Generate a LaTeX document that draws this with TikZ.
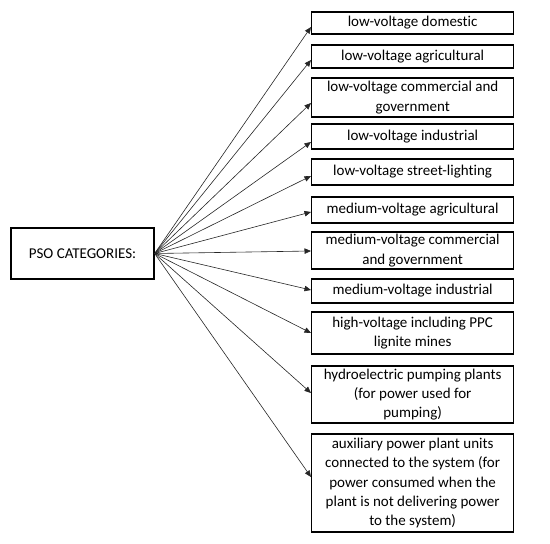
\documentclass[tikz,border=0pt]{standalone}
\usepackage{fontspec}
\setmainfont{Carlito}[Ligatures={NoCommon,NoDiscretionary,NoContextual}]
\usetikzlibrary{arrows.meta}
\begin{document}
\begin{tikzpicture}[x=1pt,y=-1pt,
  cat/.style={draw=black,line width=1.3pt,minimum width=202pt,anchor=west,align=center,inner sep=0pt,
    font=\fontsize{15}{19.3}\selectfont},
  src/.style={draw=black,line width=1.3pt,minimum width=143pt,minimum height=51pt,inner sep=0pt,
    font=\fontsize{15}{19.3}\selectfont},
  link/.style={draw=black!85,line width=0.6pt,-{Triangle[length=6.5pt,width=5.5pt]}}]
\useasboundingbox (0,0) rectangle (550,544);
\node[src] (pso) at (82.5,253.5) {PSO CATEGORIES:};
\node[cat,minimum height=22pt] (b1) at (311,23) {low-voltage domestic};
\node[cat,minimum height=23pt] (b2) at (311,56.5) {low-voltage agricultural};
\node[cat,minimum height=39pt] (b3) at (311,97.5) {low-voltage commercial and\\government};
\node[cat,minimum height=25pt] (b4) at (311,136.5) {low-voltage industrial};
\node[cat,minimum height=26pt] (b5) at (311,172) {low-voltage street-lighting};
\node[cat,minimum height=26pt] (b6) at (311,210) {medium-voltage agricultural};
\node[cat,minimum height=37pt] (b7) at (311,250.5) {medium-voltage commercial\\and government};
\node[cat,minimum height=24pt] (b8) at (311,291) {medium-voltage industrial};
\node[cat,minimum height=42pt] (b9) at (311,333) {high-voltage including PPC\\lignite mines};
\node[cat,minimum height=57pt] (b10) at (311,394.5) {hydroelectric pumping plants\\(for power used for\\pumping)};
\node[cat,minimum height=98pt] (b11) at (311,483) {auxiliary power plant units\\connected to the system (for\\power consumed when the\\plant is not delivering power\\to the system)};
\draw[link] (pso.east) -- ([yshift=-4pt]b1.west);
\draw[link] (pso.east) -- ([yshift=-3.5pt]b2.west);
\draw[link] (pso.east) -- ([yshift=-5.5pt]b3.west);
\draw[link] (pso.east) -- ([yshift=-5.5pt]b4.west);
\draw[link] (pso.east) -- ([yshift=-4pt]b5.west);
\draw[link] (pso.east) -- ([yshift=-2pt]b6.west);
\draw[link] (pso.east) -- ([yshift=-0.5pt]b7.west);
\draw[link] (pso.east) -- ([yshift=1pt]b8.west);
\draw[link] (pso.east) -- (b9.west);
\draw[link] (pso.east) -- ([yshift=1.5pt]b10.west);
\draw[link] (pso.east) -- ([yshift=6pt]b11.west);
\end{tikzpicture}
\end{document}
